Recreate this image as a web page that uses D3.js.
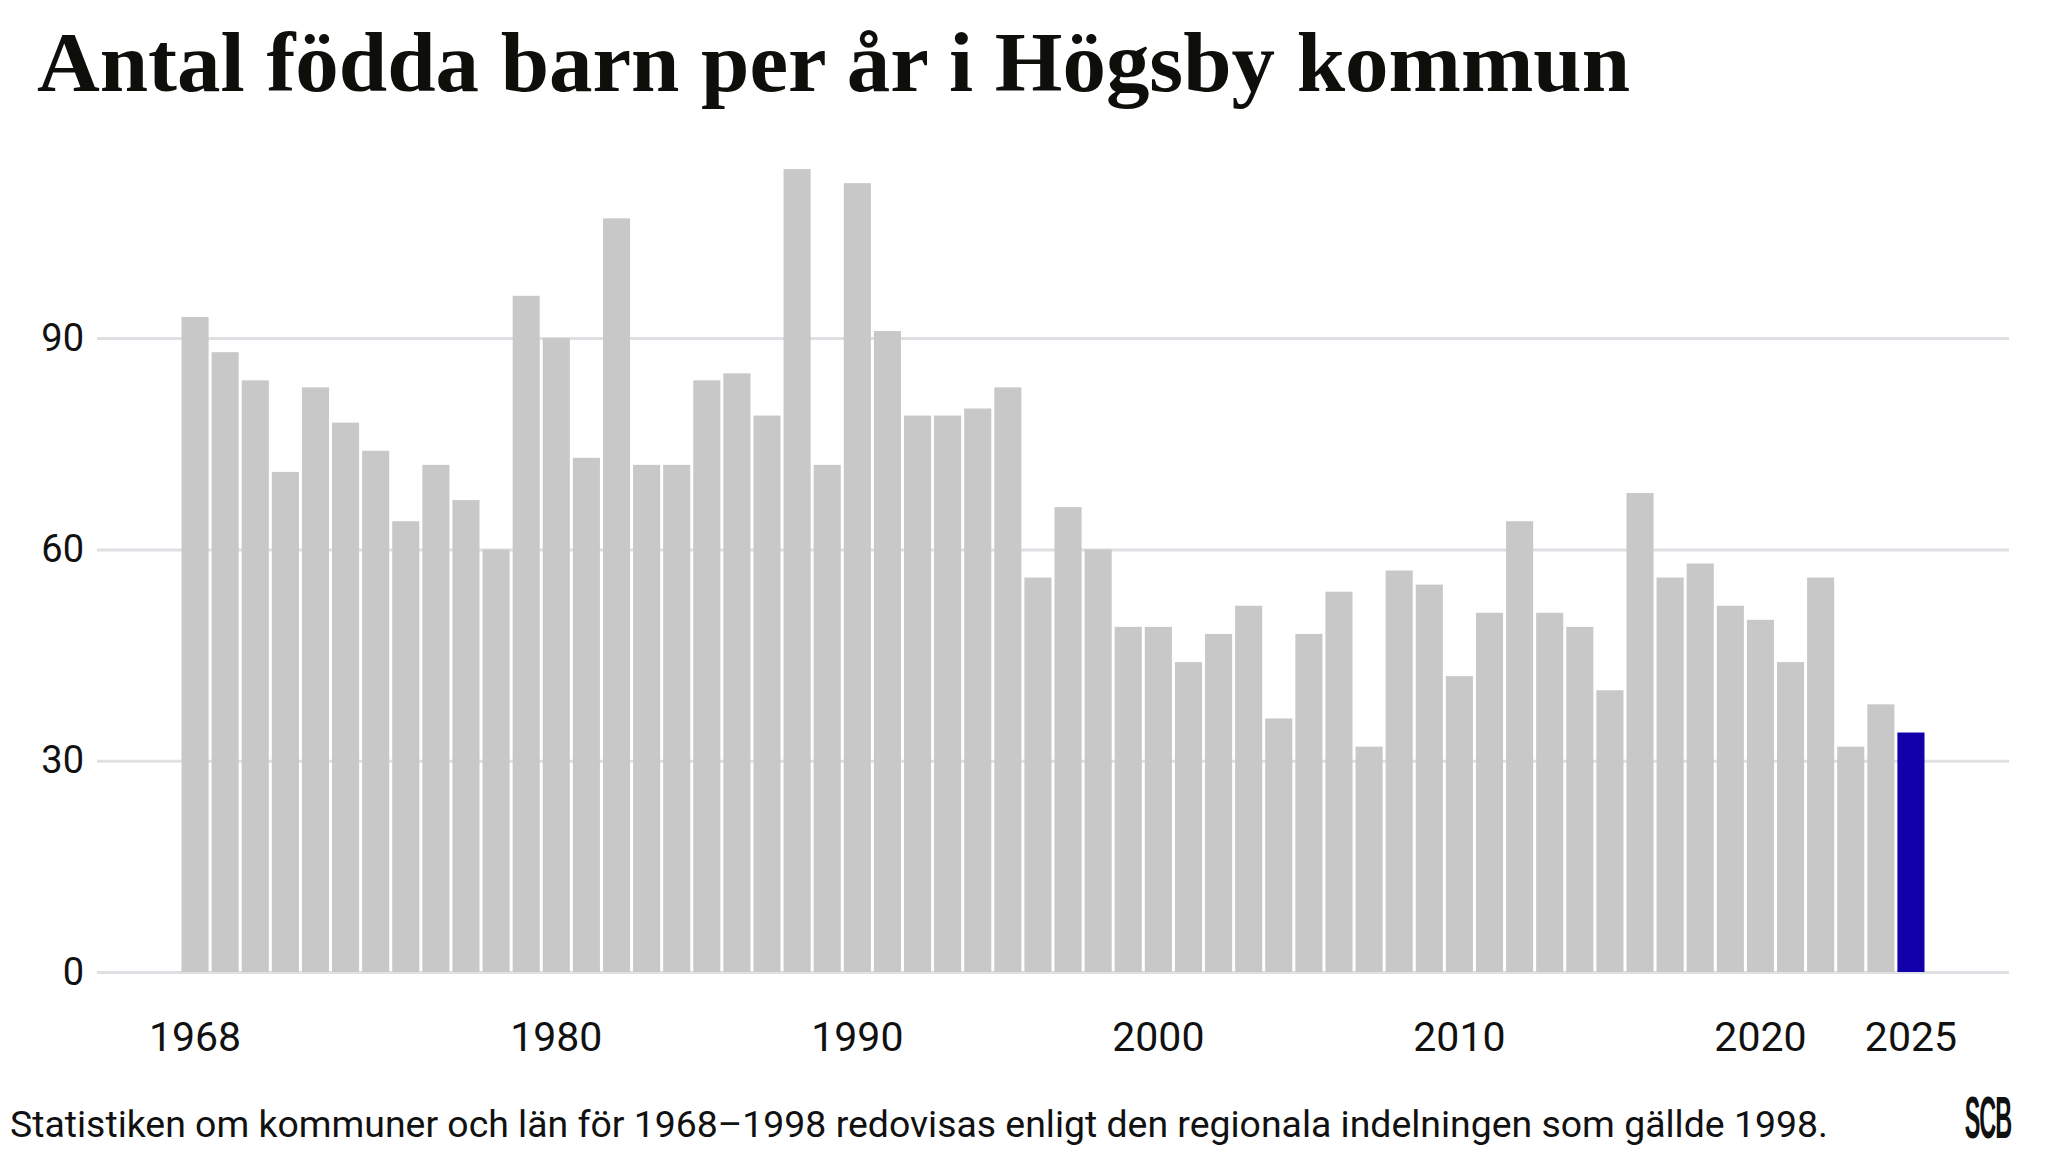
<!DOCTYPE html>
<html>
<head>
<meta charset="utf-8">
<script src="https://cdn.jsdelivr.net/npm/d3@7"></script>
<style>
  body { margin: 0; background: #fff; }
  svg { display: block; }
</style>
</head>
<body>
<div id="chart"></div>
<script>
// Data: births per year, Högsby kommun
let years = d3.range(1968, 2026);
let births = [
  93, 88, 84, 71, 83, 78, 74, 64, 72, 67,
  60, 96, 90, 73, 107, 72, 72, 84, 85, 79,
  114, 72, 112, 91, 79, 79, 80, 83, 56, 66,
  60, 49, 49, 44, 48, 52, 36, 48, 54, 32,
  57, 55, 42, 51, 64, 51, 49, 40, 68, 56,
  58, 52, 50, 44, 56, 32, 38, 34
];
let xTickYears = [1968, 1980, 1990, 2000, 2010, 2020, 2025];
let yTickValues = [0, 30, 60, 90];
let highlightYear = 2025;

let titleText = "Antal födda barn per år i Högsby kommun";
let footerText =
  "Statistiken om kommuner och län för 1968–1998 redovisas enligt den regionala indelningen som gällde 1998.";

let data = years.map((y, i) => ({ year: y, value: births[i] }));

let W = 2048,
  H = 1152;

let svg = d3
  .select("#chart")
  .append("svg")
  .attr("width", W)
  .attr("height", H);

// Title
svg
  .append("text")
  .attr("x", 37)
  .attr("y", 91)
  .attr("font-family", "'Liberation Serif', 'DejaVu Serif', serif")
  .attr("font-weight", "bold")
  .attr("font-size", 84)
  .attr("fill", "#0e0e0a")
  .attr("textLength", 1593)
  .attr("lengthAdjust", "spacingAndGlyphs")
  .text(titleText);

// Scales
let x = d3
  .scaleBand()
  .domain(years)
  .range([180, 1926])
  .paddingInner(0.1)
  .paddingOuter(0.05);

let y = d3.scaleLinear().domain([0, 115]).range([972, 162]);

let gridLeft = 97,
  gridRight = 2009;

// Y axis with gridlines
let yAxis = svg
  .append("g")
  .attr("transform", `translate(${gridLeft},0)`)
  .call(
    d3
      .axisLeft(y)
      .tickValues(yTickValues)
      .tickSize(-(gridRight - gridLeft))
      .tickPadding(13)
  );
yAxis.select(".domain").remove();
yAxis
  .selectAll(".tick line")
  .attr("stroke", "#e0e0e4")
  .attr("stroke-width", 3);
yAxis
  .selectAll(".tick text")
  .attr("font-family", "Roboto, sans-serif")
  .attr("font-size", 38)
  .attr("fill", "#111");

// Bars
svg
  .append("g")
  .selectAll("rect")
  .data(data)
  .enter()
  .append("rect")
  .attr("x", (d) => x(d.year))
  .attr("width", x.bandwidth())
  .attr("y", (d) => y(d.value))
  .attr("height", (d) => y(0) - y(d.value))
  .attr("fill", (d) => (d.year === highlightYear ? "#1100aa" : "#c8c8c8"));

// X axis labels
let xAxis = svg
  .append("g")
  .attr("transform", `translate(0,${y(0)})`)
  .call(d3.axisBottom(x).tickValues(xTickYears).tickSize(0).tickPadding(50));
xAxis.select(".domain").remove();
xAxis
  .selectAll(".tick text")
  .attr("font-family", "Roboto, sans-serif")
  .attr("font-size", 41)
  .attr("fill", "#111");

// Footer note
svg
  .append("text")
  .attr("x", 10)
  .attr("y", 1137)
  .attr("font-family", "Roboto, sans-serif")
  .attr("font-size", 37.4)
  .attr("fill", "#111")
  .text(footerText);

// SCB logo (text, condensed)
svg
  .append("text")
  .attr("transform", "translate(1988,1138) scale(0.45,1.15)")
  .attr("text-anchor", "middle")
  .attr("font-family", "'Liberation Sans', Roboto, sans-serif")
  .attr("font-weight", "bold")
  .attr("font-size", 52)
  .attr("letter-spacing", -2)
  .attr("fill", "#111")
  .text("SCB");
</script>
</body>
</html>
